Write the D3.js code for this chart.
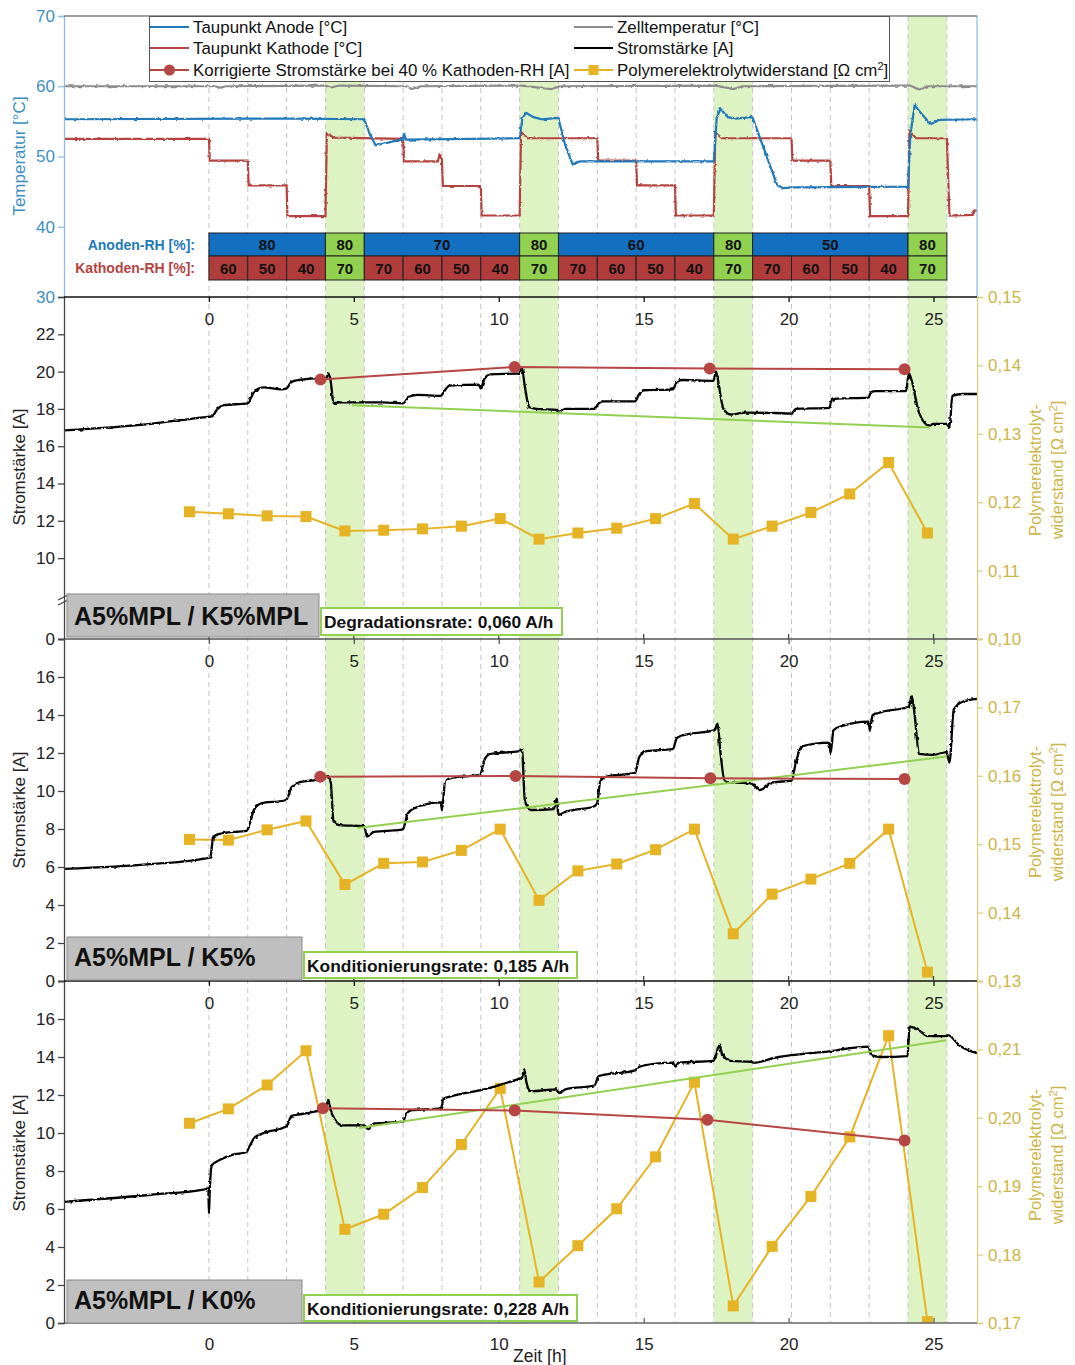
<!DOCTYPE html>
<html>
<head>
<meta charset="utf-8">
<script src="https://cdn.jsdelivr.net/npm/d3@7"></script>
<style>
  body { margin: 0; background: #fff; }
  svg text { font-family: "Liberation Sans", Arial, sans-serif; }
</style>
</head>
<body>
<svg id="chart" width="1075" height="1365"></svg>
<script>
// ---- Time structure of the test protocol (hours) ----
const stepBounds = [0, 1.34, 2.68, 4.02, 5.36, 6.70, 8.04, 9.38, 10.72, 12.06,
                    13.40, 14.74, 16.08, 17.42, 18.76, 20.10, 21.44, 22.78, 24.12, 25.46];
const bandStarts = [4.02, 10.72, 17.42, 24.12];
const bandEnds   = [5.36, 12.06, 18.76, 25.46];
const timeTicks  = [0, 5, 10, 15, 20, 25];

// ---- Relative humidity table ----
const anodeRH      = [80, 80, 70, 80, 60, 80, 50, 80];
const anodeSpans   = [[0, 3], [3, 4], [4, 8], [8, 9], [9, 13], [13, 14], [14, 18], [18, 19]];
const anodeGreen   = [false, true, false, true, false, true, false, true];
const cathodeRH    = [60, 50, 40, 70, 70, 60, 50, 40, 70, 70, 60, 50, 40, 70, 70, 60, 50, 40, 70];
const cathodeGreen = [3, 8, 13, 18];

// ---- Temperatures [°C] ----
const cellTemp = [[-5, 60.0], [0.2, 60.0], [0.4, 59.8], [0.6, 60.0], [4.0, 60.1], [4.2, 59.8], [4.5, 60.1],
  [6.8, 60.0], [7.0, 59.6], [7.3, 60.0], [10.8, 60.1], [11.8, 59.6], [12.1, 60.0], [17.5, 60.1],
  [18.1, 59.6], [18.4, 60.0], [24.2, 60.1], [24.5, 59.5], [24.8, 60.0], [26.5, 60.0]];

const dewAnode = [[-5, 55.3], [3.0, 55.4], [5.36, 55.3], [5.55, 53.2], [5.75, 51.6], [6.1, 51.9], [6.5, 52.3],
  [6.70, 52.4], [6.73, 53.3], [6.8, 52.4], [10.72, 52.6], [10.82, 55.5], [10.95, 56.2], [11.2, 55.6],
  [11.5, 55.3], [12.0, 55.5], [12.06, 55.4], [12.3, 51.5], [12.55, 48.9], [12.8, 49.3], [17.42, 49.3],
  [17.52, 55.5], [17.65, 56.8], [17.9, 55.6], [18.2, 55.4], [18.7, 55.6], [18.76, 55.5], [19.2, 50.5],
  [19.6, 46.0], [19.8, 45.5], [20.2, 45.6], [24.12, 45.7], [24.2, 53.0], [24.35, 57.3], [24.6, 56.0],
  [24.9, 54.6], [25.2, 55.2], [26.5, 55.3]];

const dewCathode = [[-5, 52.5], [0, 52.5], [0.03, 49.4], [1.34, 49.4], [1.37, 45.9], [2.68, 45.9], [2.71, 41.5],
  [4.02, 41.5], [4.07, 53.3], [4.3, 52.7], [6.70, 52.5], [6.73, 49.3], [7.9, 49.3], [7.95, 50.2], [8.04, 49.6],
  [8.07, 45.8], [9.38, 45.8], [9.41, 41.6], [10.72, 41.6], [10.77, 53.5], [11.0, 52.6], [13.40, 52.6],
  [13.43, 49.4], [14.74, 49.4], [14.77, 45.9], [16.08, 45.9], [16.11, 41.6], [17.42, 41.6], [17.47, 53.4],
  [17.7, 52.6], [20.10, 52.6], [20.13, 49.4], [21.44, 49.4], [21.47, 45.8], [22.78, 45.8], [22.81, 41.5],
  [24.12, 41.5], [24.17, 53.6], [24.4, 52.6], [25.46, 52.6], [25.55, 41.6], [26.35, 41.7], [26.4, 42.3], [26.5, 42.3]];

// ---- Current [A] per cell configuration ----
const currentA = [[-5, 16.85], [-2, 17.2], [-0.2, 17.55], [0.1, 17.6], [0.3, 18.0], [0.5, 18.2], [1.34, 18.3],
  [1.45, 18.6], [1.6, 19.0], [1.9, 19.15], [2.5, 19.05], [2.68, 19.1], [2.85, 19.45], [3.1, 19.55],
  [3.9, 19.65], [4.05, 19.65], [4.12, 19.9], [4.2, 19.5], [4.3, 18.3], [4.5, 18.35], [6.0, 18.35],
  [6.7, 18.3], [6.9, 18.65], [7.2, 18.75], [8.0, 18.7], [8.1, 18.9], [8.3, 19.25], [9.3, 19.3],
  [9.38, 19.1], [9.5, 19.6], [9.7, 19.85], [10.7, 19.9], [10.8, 20.2], [10.9, 19.2], [11.05, 18.1],
  [11.3, 18.0], [12.0, 17.95], [12.1, 17.85], [12.3, 18.0], [13.3, 18.0], [13.45, 18.3], [13.6, 18.4],
  [14.7, 18.4], [14.85, 18.8], [15.0, 19.0], [16.0, 19.05], [16.15, 19.45], [16.3, 19.55], [17.4, 19.5],
  [17.5, 20.0], [17.6, 19.2], [17.75, 18.0], [18.0, 17.7], [18.5, 17.8], [19.5, 17.78], [20.1, 17.75],
  [20.25, 18.0], [21.4, 18.05], [21.5, 18.5], [21.7, 18.55], [22.75, 18.6], [22.85, 18.9], [23.0, 18.95],
  [24.05, 18.95], [24.15, 19.9], [24.25, 19.5], [24.5, 17.8], [24.85, 17.1], [25.0, 17.2], [25.45, 17.2],
  [25.55, 17.0], [25.65, 18.7], [26.0, 18.8], [26.5, 18.8]];

const currentB = [[-5, 5.9], [-2, 6.15], [-0.1, 6.45], [0.05, 6.5], [0.15, 7.6], [0.5, 7.8], [1.3, 7.9],
  [1.4, 8.2], [1.55, 9.0], [1.8, 9.35], [2.6, 9.5], [2.7, 9.6], [2.85, 10.2], [3.1, 10.45], [4.0, 10.65],
  [4.1, 10.8], [4.2, 10.5], [4.3, 8.4], [4.5, 8.2], [5.36, 8.15], [5.45, 7.6], [5.7, 7.85], [6.6, 7.95],
  [6.7, 8.0], [6.85, 8.8], [7.1, 9.1], [8.0, 9.4], [8.04, 9.0], [8.15, 10.5], [8.4, 10.7], [9.35, 10.85],
  [9.5, 11.6], [9.7, 11.95], [10.7, 12.1], [10.8, 12.2], [10.9, 9.5], [11.1, 9.0], [11.9, 9.05], [12.0, 9.6],
  [12.06, 8.75], [12.3, 8.9], [13.3, 9.2], [13.4, 9.4], [13.5, 10.5], [13.7, 10.75], [14.7, 10.95],
  [14.85, 11.8], [15.1, 12.1], [16.0, 12.2], [16.15, 12.8], [16.4, 12.95], [17.45, 13.2], [17.55, 13.55],
  [17.65, 12.0], [17.8, 10.5], [18.0, 10.45], [18.7, 10.4], [18.8, 10.3], [19.0, 10.05], [19.45, 10.45],
  [20.1, 10.55], [20.25, 11.5], [20.45, 12.35], [21.4, 12.55], [21.45, 12.0], [21.55, 13.2], [21.8, 13.4],
  [22.75, 13.65], [22.8, 13.2], [22.9, 14.0], [23.2, 14.15], [24.15, 14.45], [24.25, 15.0], [24.35, 14.0],
  [24.5, 11.95], [25.0, 11.9], [25.45, 12.05], [25.55, 11.5], [25.7, 14.3], [26.0, 14.7], [26.5, 14.85]];

const currentC = [[-5, 6.38], [-2, 6.75], [-0.1, 7.05], [-0.02, 7.1], [0, 5.75], [0.03, 7.0], [0.1, 8.3],
  [0.4, 8.6], [0.8, 8.85], [1.3, 9.0], [1.4, 9.3], [1.6, 9.8], [2.0, 10.05], [2.6, 10.3], [2.7, 10.4],
  [2.85, 10.9], [3.2, 11.0], [3.9, 11.25], [4.05, 11.45], [4.12, 11.75], [4.2, 11.2], [4.35, 10.7],
  [4.6, 10.4], [5.36, 10.4], [5.5, 10.2], [5.7, 10.5], [6.7, 10.6], [6.8, 11.0], [7.0, 11.2], [8.0, 11.3],
  [8.1, 11.8], [8.4, 11.95], [9.5, 12.3], [10.7, 12.85], [10.8, 12.9], [10.88, 13.35], [10.95, 12.7],
  [11.1, 12.2], [12.0, 12.3], [12.1, 12.1], [12.3, 12.3], [13.3, 12.5], [13.45, 13.0], [14.7, 13.3],
  [14.85, 13.5], [16.0, 13.7], [16.1, 13.5], [16.2, 13.7], [17.4, 13.8], [17.5, 14.1], [17.6, 14.65],
  [17.7, 14.2], [18.0, 13.8], [18.7, 13.75], [18.8, 13.7], [19.5, 13.95], [21.4, 14.3], [22.75, 14.55],
  [22.85, 14.1], [23.2, 14.0], [24.1, 14.05], [24.18, 15.6], [24.5, 15.4], [24.8, 15.1], [25.4, 15.1],
  [25.5, 15.15], [25.9, 14.6], [26.5, 14.2]];

// ---- Corrected current at 40 % cathode RH [A] ----
const corrTimesA = [3.85, 10.55, 17.28, 24.0];
const corrA      = [19.57, 20.25, 20.16, 20.12];
const corrTimesB = [3.84, 10.58, 17.3, 24.0];
const corrB      = [10.75, 10.79, 10.67, 10.63];
const corrTimesC = [3.93, 10.55, 17.2, 24.0];
const corrC      = [11.3, 11.18, 10.7, 9.6];

// ---- Membrane resistance [Ω cm²] ----
const resTimes = [-0.67, 0.67, 2.01, 3.35, 4.69, 6.03, 7.37, 8.71, 10.05, 11.39,
                  12.73, 14.07, 15.41, 16.75, 18.09, 19.43, 20.77, 22.11, 23.45, 24.79];
const resA = [0.1186, 0.1183, 0.1180, 0.1179, 0.1158, 0.1159, 0.1161, 0.1165, 0.1176, 0.1146,
              0.1155, 0.1162, 0.1176, 0.1198, 0.1146, 0.1165, 0.1185, 0.1212, 0.1258, 0.1155];
const resB = [0.1507, 0.1506, 0.1521, 0.1534, 0.1441, 0.1472, 0.1474, 0.1491, 0.1522, 0.1418,
              0.1461, 0.1471, 0.1492, 0.1522, 0.1369, 0.1427, 0.1449, 0.1472, 0.1522, 0.1313];
const resC = [0.1992, 0.2013, 0.2048, 0.2098, 0.1837, 0.1859, 0.1898, 0.1961, 0.2043, 0.1760,
              0.1813, 0.1867, 0.1943, 0.2052, 0.1725, 0.1812, 0.1885, 0.1972, 0.2120, 0.1702];

// ---- Linear trends (A/h) ----
const trendNames  = ["Degradationsrate", "Konditionierungsrate", "Konditionierungsrate"];
const trendRates  = [-0.060, 0.185, 0.228];
const trendStartT = [4.94, 5.12, 5.18];
const trendStartI = [18.2, 8.05, 10.26];
const trendEndT   = [24.86, 25.45, 25.45];

const cellNames = ["A5%MPL / K5%MPL", "A5%MPL / K5%", "A5%MPL / K0%"];

// ---- Colours ----
const C = {
  anode: "#2279b9", cathode: "#b5433f", cell: "#8c8c8c", current: "#000",
  corr: "#b64644", res: "#e6b325", trend: "#92d050", band: "#ddf3c4",
  grid: "#c4c4c4", tempAxis: "#3d8fc2", tempAxisLine: "#8fc1de",
  resAxis: "#cdb548", resAxisLine: "#dccf7c", ink: "#222",
  cellBlue: "#136fc0", cellRed: "#b13c3c", cellGreen: "#92d050"
};

const svg = d3.select("#chart");
const X0 = 64, X1 = 977, TOP = 16, BOT = 1323;
const x = d3.scaleLinear().domain([-5, 26.5]).range([X0, X1]);

// Panels: temperature + three current/resistance panels
const yT = d3.scaleLinear().domain([30, 70]).range([297, 16]);
const panels = [
  { top: 297, bottom: 639, yI: d3.scaleLinear().domain([0, 1.5, 7.7, 24]).range([639, 606, 601, 297]),
    iTicks: [0, 10, 12, 14, 16, 18, 20, 22], yR: d3.scaleLinear().domain([0.10, 0.15]).range([639, 297]),
    rTicks: [0.10, 0.11, 0.12, 0.13, 0.14, 0.15], cur: currentA, corrT: corrTimesA, corr: corrA, res: resA,
    labelBox: [67, 594, 252, 43], labelBase: 625, rateBox: [321, 608, 241, 27], rateBase: 628 },
  { top: 639, bottom: 981, yI: d3.scaleLinear().domain([0, 18]).range([981, 639]),
    iTicks: [0, 2, 4, 6, 8, 10, 12, 14, 16], yR: d3.scaleLinear().domain([0.13, 0.18]).range([981, 639]),
    rTicks: [0.13, 0.14, 0.15, 0.16, 0.17], cur: currentB, corrT: corrTimesB, corr: corrB, res: resB,
    labelBox: [67, 937, 235, 43], labelBase: 966, rateBox: [304, 952, 273, 26], rateBase: 972 },
  { top: 981, bottom: 1323, yI: d3.scaleLinear().domain([0, 18]).range([1323, 981]),
    iTicks: [0, 2, 4, 6, 8, 10, 12, 14, 16], yR: d3.scaleLinear().domain([0.17, 0.22]).range([1323, 981]),
    rTicks: [0.17, 0.18, 0.19, 0.20, 0.21], cur: currentC, corrT: corrTimesC, corr: corrC, res: resC,
    labelBox: [67, 1280, 235, 43], labelBase: 1309, rateBox: [304, 1295, 273, 26], rateBase: 1315 }
];

const defs = svg.append("defs");
function clipFor(id, y0, y1) {
  defs.append("clipPath").attr("id", id).append("rect")
    .attr("x", X0).attr("y", y0).attr("width", X1 - X0).attr("height", y1 - y0);
  return "url(#" + id + ")";
}
// measurement-signal texture for the logged traces
const jitter = defs.append("filter").attr("id", "signal").attr("filterUnits", "userSpaceOnUse")
  .attr("x", 0).attr("y", 0).attr("width", 1075).attr("height", 1365);
jitter.append("feTurbulence").attr("type", "fractalNoise").attr("baseFrequency", "0.3 0.3")
  .attr("numOctaves", 1).attr("seed", 3).attr("result", "n");
jitter.append("feDisplacementMap").attr("in", "SourceGraphic").attr("in2", "n").attr("scale", 3)
  .attr("xChannelSelector", "R").attr("yChannelSelector", "G");

// Green bands (stationary 80/70 % RH steps) through all panels
svg.append("g").selectAll("rect").data(d3.range(bandStarts.length)).join("rect")
  .attr("x", i => x(bandStarts[i])).attr("width", i => x(bandEnds[i]) - x(bandStarts[i]))
  .attr("y", TOP).attr("height", BOT - TOP).attr("fill", C.band);

// Dashed separators between humidity steps
svg.append("g").selectAll("line").data(stepBounds).join("line")
  .attr("x1", d => x(d)).attr("x2", d => x(d)).attr("y1", TOP).attr("y2", BOT)
  .attr("stroke", C.grid).attr("stroke-width", 1).attr("stroke-dasharray", "5,4");

// ---- Temperature panel ----
const lineT = d3.line().x(d => x(d[0])).y(d => yT(d[1]));
const gT = svg.append("g").attr("clip-path", clipFor("clipT", 16, 297));
[[cellTemp, C.cell], [dewCathode, C.cathode], [dewAnode, C.anode]].forEach(([data, col]) => {
  gT.append("path").datum(data).attr("d", lineT).attr("fill", "none")
    .attr("stroke", col).attr("stroke-width", 2.2).attr("filter", "url(#signal)");
});

// ---- Current / resistance panels ----
panels.forEach((p, k) => {
  const g = svg.append("g").attr("clip-path", clipFor("clipP" + k, p.top, p.bottom));
  const lineI = d3.line().x(d => x(d[0])).y(d => p.yI(d[1]));
  // resistance
  const resPts = resTimes.map((t, i) => [t, p.res[i]]);
  g.append("path").datum(resPts)
    .attr("d", d3.line().x(d => x(d[0])).y(d => p.yR(d[1])))
    .attr("fill", "none").attr("stroke", C.res).attr("stroke-width", 2);
  g.selectAll("rect.res").data(resPts).join("rect").attr("class", "res")
    .attr("x", d => x(d[0]) - 5.5).attr("y", d => p.yR(d[1]) - 5.5)
    .attr("width", 11).attr("height", 11).attr("fill", C.res);
  // measured current
  g.append("path").datum(p.cur).attr("d", lineI.curve(d3.curveMonotoneX))
    .attr("fill", "none").attr("stroke", C.current).attr("stroke-width", 2.3)
    .attr("stroke-linejoin", "round").attr("filter", "url(#signal)");
  lineI.curve(d3.curveLinear);
  // trend line from the stated rate
  const t0 = trendStartT[k], t1 = trendEndT[k];
  const trendPts = [[t0, trendStartI[k]], [t1, trendStartI[k] + trendRates[k] * (t1 - t0)]];
  g.append("path").datum(trendPts).attr("d", lineI)
    .attr("fill", "none").attr("stroke", C.trend).attr("stroke-width", 2);
  // corrected current
  const corrPts = p.corrT.map((t, i) => [t, p.corr[i]]);
  g.append("path").datum(corrPts).attr("d", lineI)
    .attr("fill", "none").attr("stroke", C.corr).attr("stroke-width", 2);
  g.selectAll("circle").data(corrPts).join("circle")
    .attr("cx", d => x(d[0])).attr("cy", d => p.yI(d[1])).attr("r", 6).attr("fill", C.corr);
});

// ---- Axes ----
const fmtComma = d => d3.format(".2f")(d).replace(".", ",");
function styleAxis(g, lineColor, textColor, size) {
  g.attr("font-family", null).attr("font-size", null);
  g.select(".domain").attr("stroke", lineColor).attr("stroke-width", 1.3);
  g.selectAll(".tick line").attr("stroke", lineColor).attr("stroke-width", 1.3);
  g.selectAll(".tick text").attr("fill", textColor).attr("font-size", size)
    .style("font-family", '"Liberation Sans", Arial, sans-serif');
}

// temperature axis (left) and plain right edge
styleAxis(svg.append("g").attr("transform", `translate(${X0},0)`)
  .call(d3.axisLeft(yT).tickValues([30, 40, 50, 60, 70]).tickSize(6).tickPadding(3)),
  C.tempAxisLine, C.tempAxis, 17);
svg.append("line").attr("x1", X1).attr("x2", X1).attr("y1", 16).attr("y2", 297)
  .attr("stroke", C.tempAxisLine).attr("stroke-width", 1.3);
svg.append("line").attr("x1", X0).attr("x2", X1).attr("y1", 16).attr("y2", 16)
  .attr("stroke", "#444").attr("stroke-width", 1.2);

panels.forEach((p, k) => {
  styleAxis(svg.append("g").attr("transform", `translate(${X0},0)`)
    .call(d3.axisLeft(p.yI).tickValues(p.iTicks).tickSize(6).tickPadding(3)),
    "#444", C.ink, 17);
  styleAxis(svg.append("g").attr("transform", `translate(${X1},0)`)
    .call(d3.axisRight(p.yR).tickValues(p.rTicks).tickFormat(fmtComma).tickSize(6).tickPadding(5)),
    C.resAxisLine, C.resAxis, 17);
  // time labels along the top edge of each panel
  const gx = svg.append("g").attr("transform", `translate(0,${p.top})`)
    .call(d3.axisBottom(x).tickValues(timeTicks).tickSize(5).tickPadding(11));
  styleAxis(gx, k === 1 ? "#555" : "#111", C.ink, 17);
  gx.select(".domain").attr("d", `M${X0},0H${X1}`);
});
// bottom time axis
const gxb = svg.append("g").attr("transform", `translate(0,${BOT})`)
  .call(d3.axisBottom(x).tickValues(timeTicks).tickSizeInner(-5).tickSizeOuter(0).tickPadding(15));
styleAxis(gxb, "#666", C.ink, 17);
gxb.select(".domain").attr("d", `M${X0},0H${X1}`);
// short inner ticks on bottom edges of the upper current panels
[639, 981].forEach(yb => {
  svg.append("g").selectAll("line").data(timeTicks).join("line")
    .attr("x1", d => x(d)).attr("x2", d => x(d)).attr("y1", yb).attr("y2", yb - 5)
    .attr("stroke", "#444").attr("stroke-width", 1.3);
});

// axis break on the first current axis
const brk = svg.append("g").attr("stroke", "#444").attr("stroke-width", 1.3);
brk.append("line").attr("x1", X0 - 6).attr("y1", 600).attr("x2", X0 + 6).attr("y2", 594);
brk.append("line").attr("x1", X0 - 6).attr("y1", 605).attr("x2", X0 + 6).attr("y2", 599);

// axis titles
svg.append("text").attr("transform", "translate(25,156) rotate(-90)").attr("text-anchor", "middle")
  .attr("fill", C.tempAxis).attr("font-size", 17).text("Temperatur [°C]");
const iTitleY = [467, 810, 1153];
const rTitleY = [470, 812, 1155];
iTitleY.forEach(cy => {
  svg.append("text").attr("transform", `translate(25,${cy}) rotate(-90)`).attr("text-anchor", "middle")
    .attr("fill", C.ink).attr("font-size", 17).text("Stromstärke [A]");
});
rTitleY.forEach(cy => {
  svg.append("text").attr("transform", `translate(1041,${cy}) rotate(-90)`).attr("text-anchor", "middle")
    .attr("fill", C.resAxis).attr("font-size", 16.5).text("Polymerelektrolyt-");
  const t = svg.append("text").attr("transform", `translate(1063,${cy}) rotate(-90)`).attr("text-anchor", "middle")
    .attr("fill", C.resAxis).attr("font-size", 16.5);
  t.append("tspan").text("widerstand [Ω cm");
  t.append("tspan").attr("font-size", 11).attr("dy", -6).text("2");
  t.append("tspan").attr("dy", 6).text("]");
});
svg.append("text").attr("x", 513).attr("y", 1362).attr("fill", C.ink).attr("font-size", 17.5).text("Zeit [h]");

// ---- RH table ----
const rowA = { y: 233, h: 23 }, rowK = { y: 256, h: 24 };
const tbl = svg.append("g");
tbl.selectAll("rect.a").data(anodeSpans).join("rect").attr("class", "a")
  .attr("x", d => x(stepBounds[d[0]])).attr("width", d => x(stepBounds[d[1]]) - x(stepBounds[d[0]]))
  .attr("y", rowA.y).attr("height", rowA.h)
  .attr("fill", (d, i) => anodeGreen[i] ? C.cellGreen : C.cellBlue).attr("stroke", "#222").attr("stroke-width", 1);
tbl.selectAll("text.a").data(anodeSpans).join("text").attr("class", "a")
  .attr("x", d => (x(stepBounds[d[0]]) + x(stepBounds[d[1]])) / 2).attr("y", rowA.y + 17)
  .attr("text-anchor", "middle").attr("font-weight", "bold").attr("font-size", 15).attr("fill", "#111")
  .text((d, i) => anodeRH[i]);
tbl.selectAll("rect.k").data(cathodeRH).join("rect").attr("class", "k")
  .attr("x", (d, i) => x(stepBounds[i])).attr("width", (d, i) => x(stepBounds[i + 1]) - x(stepBounds[i]))
  .attr("y", rowK.y).attr("height", rowK.h)
  .attr("fill", (d, i) => cathodeGreen.includes(i) ? C.cellGreen : C.cellRed).attr("stroke", "#222").attr("stroke-width", 1);
tbl.selectAll("text.k").data(cathodeRH).join("text").attr("class", "k")
  .attr("x", (d, i) => (x(stepBounds[i]) + x(stepBounds[i + 1])) / 2).attr("y", rowK.y + 18)
  .attr("text-anchor", "middle").attr("font-weight", "bold").attr("font-size", 15).attr("fill", "#111")
  .text(d => d);
tbl.append("text").attr("x", 195).attr("y", rowA.y + 17).attr("text-anchor", "end").attr("font-weight", "bold")
  .attr("font-size", 14).attr("fill", C.anode).text("Anoden-RH [%]:");
tbl.append("text").attr("x", 195).attr("y", rowK.y + 17).attr("text-anchor", "end").attr("font-weight", "bold")
  .attr("font-size", 14).attr("fill", C.cathode).text("Kathoden-RH [%]:");

// ---- Legend ----
const leg = svg.append("g");
leg.append("rect").attr("x", 149.5).attr("y", 16.5).attr("width", 740).attr("height", 65)
  .attr("fill", "#fff").attr("stroke", "#555").attr("stroke-width", 1);
const legItems = [
  { x: 150, y: 27, c: C.anode, label: "Taupunkt Anode [°C]" },
  { x: 150, y: 48, c: C.cathode, label: "Taupunkt Kathode [°C]" },
  { x: 150, y: 70, c: C.corr, label: "Korrigierte Stromstärke bei 40 % Kathoden-RH [A]", mark: "circle" },
  { x: 574, y: 27, c: C.cell, label: "Zelltemperatur [°C]" },
  { x: 574, y: 48, c: C.current, label: "Stromstärke [A]" },
  { x: 574, y: 70, c: C.res, label: "Polymerelektrolytwiderstand [Ω cm", sup: true, mark: "square" }
];
legItems.forEach(it => {
  leg.append("line").attr("x1", it.x).attr("x2", it.x + 39).attr("y1", it.y).attr("y2", it.y)
    .attr("stroke", it.c).attr("stroke-width", 2.2);
  if (it.mark === "circle") leg.append("circle").attr("cx", it.x + 19.5).attr("cy", it.y).attr("r", 5.5).attr("fill", it.c);
  if (it.mark === "square") leg.append("rect").attr("x", it.x + 14.5).attr("y", it.y - 5).attr("width", 10).attr("height", 10).attr("fill", it.c);
  const t = leg.append("text").attr("x", it.x + 43).attr("y", it.y + 5.5).attr("font-size", 16.9).attr("fill", "#111");
  t.append("tspan").text(it.label);
  if (it.sup) {
    t.append("tspan").attr("font-size", 11).attr("dy", -6).text("2");
    t.append("tspan").attr("dy", 6).text("]");
  }
});

// ---- Panel name boxes and rate boxes ----
panels.forEach((p, k) => {
  const [bx, by, bw, bh] = p.labelBox;
  svg.append("rect").attr("x", bx).attr("y", by).attr("width", bw).attr("height", bh)
    .attr("fill", "#bfbfbf").attr("stroke", "#8a8a8a").attr("stroke-width", 1);
  svg.append("text").attr("x", bx + 7).attr("y", p.labelBase).attr("font-size", 25).attr("font-weight", "bold")
    .attr("fill", "#111").text(cellNames[k]);
  const [rx, ry, rw, rh] = p.rateBox;
  svg.append("rect").attr("x", rx).attr("y", ry).attr("width", rw).attr("height", rh)
    .attr("fill", "#fff").attr("stroke", C.trend).attr("stroke-width", 2);
  svg.append("text").attr("x", rx + 3).attr("y", p.rateBase).attr("font-size", 17.4).attr("font-weight", "bold")
    .attr("fill", "#111")
    .text(`${trendNames[k]}: ${d3.format(".3f")(Math.abs(trendRates[k])).replace(".", ",")} A/h`);
});
</script>
</body>
</html>
